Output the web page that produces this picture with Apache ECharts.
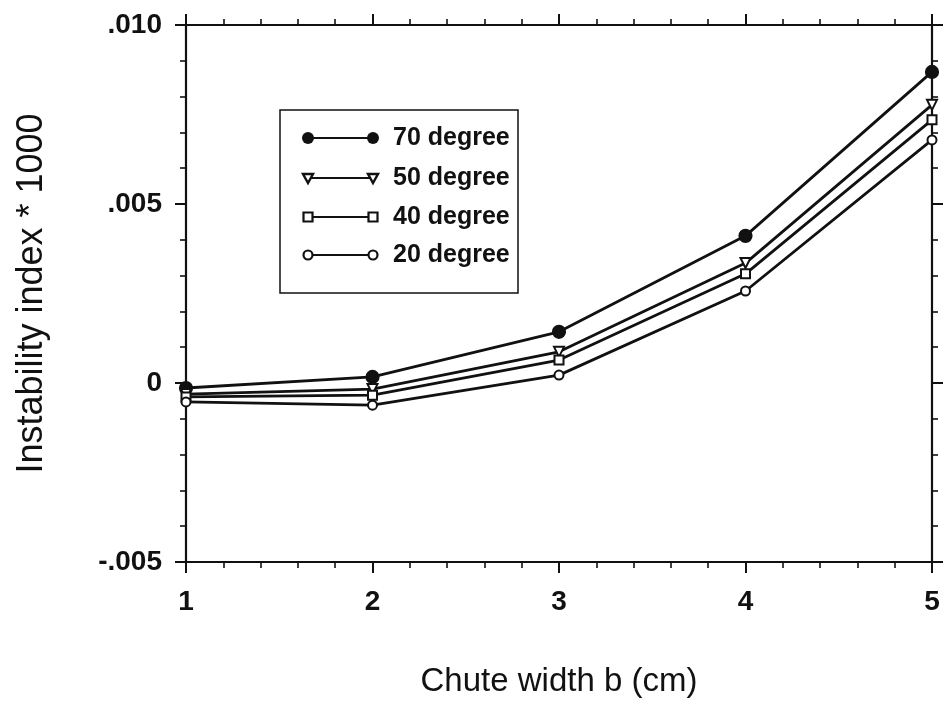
<!DOCTYPE html>
<html><head><meta charset="utf-8">
<script src="https://cdn.jsdelivr.net/npm/echarts@6/dist/echarts.min.js"></script>
<style>html,body{margin:0;padding:0;background:#fff}#chart{width:945px;height:708px}</style>
</head><body><div id="chart"></div>
<script>
// Chute width b (cm)
const chuteWidth = [1, 2, 3, 4, 5];
// Instability index * 1000 for each inclination
const deg70 = [-0.00014, 0.00017, 0.00143, 0.00411, 0.00869];
const deg50 = [-0.00031, -0.00017, 0.00087, 0.00335, 0.00777];
const deg40 = [-0.00039, -0.00034, 0.00064, 0.00305, 0.00735];
const deg20 = [-0.00053, -0.00062, 0.00022, 0.00257, 0.00679];
const seriesNames = ['70 degree', '50 degree', '40 degree', '20 degree'];
const yTickLabels = ['-.005', '0', '.005', '.010'];

const INK = '#111';
const FONT = '"Liberation Sans", Arial, Helvetica, sans-serif';
const Y_MIN = -0.005, Y_MAX = 0.010, Y_STEP = 0.005;

const markerKinds = ['dot', 'down', 'square', 'ring'];
const seriesValues = [deg70, deg50, deg40, deg20];

function symbolFor(kind) {
  switch (kind) {
    case 'dot': return { symbol: 'circle', symbolSize: 12, symbolRotate: 0 };
    case 'down': return { symbol: 'emptyTriangle', symbolSize: 10, symbolRotate: 180 };
    case 'square': return { symbol: 'emptyRect', symbolSize: 9, symbolRotate: 0 };
    default: return { symbol: 'emptyCircle', symbolSize: 9, symbolRotate: 0 };
  }
}

const series = seriesNames.map((name, i) => {
  const s = symbolFor(markerKinds[i]);
  return {
    name, type: 'line',
    data: chuteWidth.map((x, j) => [x, seriesValues[i][j]]),
    symbol: s.symbol, symbolSize: s.symbolSize, symbolRotate: s.symbolRotate,
    lineStyle: { color: INK, width: 2.8 },
    itemStyle: { color: INK, borderColor: INK, borderWidth: 2.2 },
    z: 3
  };
});

function yLabel(v) {
  const idx = Math.round((v - Y_MIN) / Y_STEP);
  return yTickLabels[idx] !== undefined ? yTickLabels[idx] : '';
}

const tickCommon = { show: true, length: 11, lineStyle: { color: INK, width: 2 } };
const minorCommon = { show: true, splitNumber: 5, length: 6, lineStyle: { color: INK, width: 1.6 } };
const lineCommon = { show: true, onZero: false, lineStyle: { color: INK, width: 2.2 } };

// Legend panel drawn as a boxed key
const legendBox = { left: 280, top: 110, width: 238, height: 183 };
const rowY = [138, 178, 217, 255];
function legendMarker(kind, cx, cy) {
  if (kind === 'dot') return { type: 'circle', shape: { cx, cy, r: 6 }, style: { fill: INK } };
  if (kind === 'ring') return { type: 'circle', shape: { cx, cy, r: 4.5 }, style: { fill: '#fff', stroke: INK, lineWidth: 2.2 } };
  if (kind === 'square') return { type: 'rect', shape: { x: cx - 4.5, y: cy - 4.5, width: 9, height: 9 }, style: { fill: '#fff', stroke: INK, lineWidth: 2.2 } };
  return { type: 'polygon', shape: { points: [[cx - 5, cy - 4], [cx + 5, cy - 4], [cx, cy + 5]] }, style: { fill: '#fff', stroke: INK, lineWidth: 2.4 } };
}
const legendChildren = [{
  type: 'rect', shape: { x: legendBox.left, y: legendBox.top, width: legendBox.width, height: legendBox.height },
  style: { fill: 'none', stroke: INK, lineWidth: 1.5 }
}];
seriesNames.forEach((name, i) => {
  const y = rowY[i];
  legendChildren.push({ type: 'line', shape: { x1: 308, y1: y, x2: 373, y2: y }, style: { stroke: INK, lineWidth: 2.2 } });
  legendChildren.push(legendMarker(markerKinds[i], 308, y));
  legendChildren.push(legendMarker(markerKinds[i], 373, y));
  legendChildren.push({ type: 'text', x: 393, y, style: { text: name, font: 'bold 25px ' + FONT, fill: INK, verticalAlign: 'middle', align: 'left' } });
});

const chart = echarts.init(document.getElementById('chart'), null, { renderer: 'canvas' });
chart.setOption({
  backgroundColor: '#fff',
  animation: false,
  grid: { left: 186, top: 25, right: 13, bottom: 146, containLabel: false },
  xAxis: [{
    type: 'value', min: 1, max: 5, interval: 1, position: 'bottom',
    axisLine: lineCommon, axisTick: tickCommon, minorTick: minorCommon,
    splitLine: { show: false },
    axisLabel: { show: true, margin: 26, color: INK, fontSize: 28, fontWeight: 'bold', fontFamily: FONT },
    name: 'Chute width b (cm)', nameLocation: 'middle', nameGap: 103,
    nameTextStyle: { color: INK, fontSize: 33, fontFamily: FONT }
  }, {
    type: 'value', min: 1, max: 5, interval: 1, position: 'top',
    axisLine: lineCommon, axisTick: tickCommon, minorTick: minorCommon,
    splitLine: { show: false }, axisLabel: { show: false }
  }],
  yAxis: [{
    type: 'value', min: Y_MIN, max: Y_MAX, interval: Y_STEP, position: 'left',
    axisLine: lineCommon, axisTick: tickCommon, minorTick: minorCommon,
    splitLine: { show: false },
    axisLabel: { show: true, margin: 24, color: INK, fontSize: 28, fontWeight: 'bold', fontFamily: FONT, formatter: yLabel },
    name: 'Instability index * 1000', nameLocation: 'middle', nameGap: 136, nameRotate: 90,
    nameTextStyle: { color: INK, fontSize: 36, fontFamily: FONT }
  }, {
    type: 'value', min: Y_MIN, max: Y_MAX, interval: Y_STEP, position: 'right',
    axisLine: lineCommon, axisTick: tickCommon, minorTick: minorCommon,
    splitLine: { show: false }, axisLabel: { show: false }
  }],
  series,
  graphic: [{ type: 'group', children: legendChildren }]
});
</script>
</body></html>
